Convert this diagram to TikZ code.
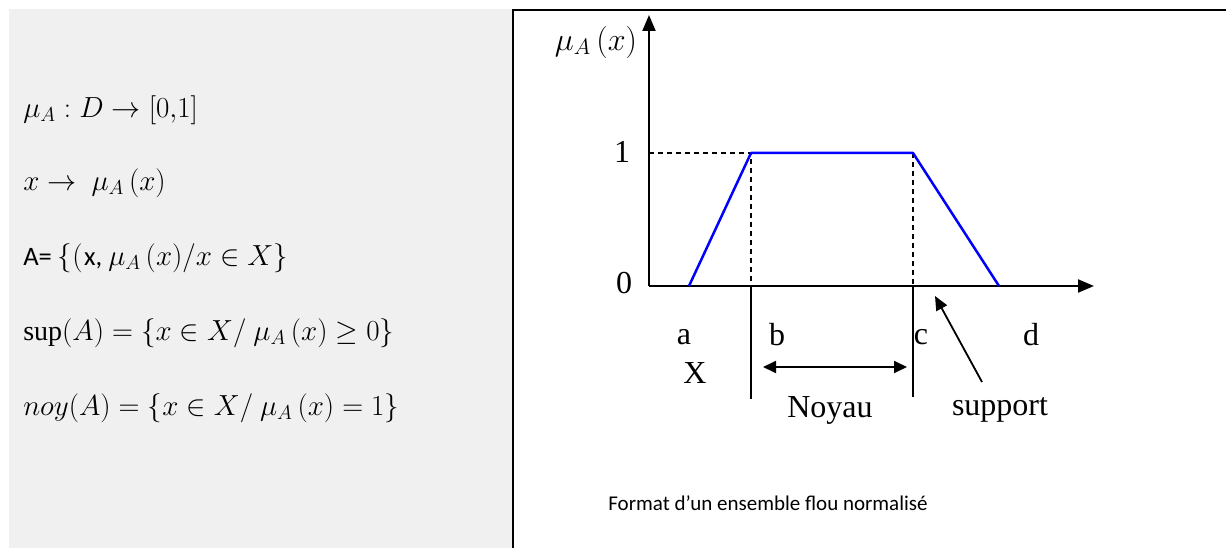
\documentclass[tikz,border=0pt]{standalone}
\usepackage{fontspec}
\setmainfont{Liberation Serif}
\newfontfamily\calib{Carlito}
\usetikzlibrary{arrows.meta}
\begin{document}
\begin{tikzpicture}[x=1pt,y=-1pt,
  axisline/.style={line width=2pt,-{Triangle[length=16pt,width=13pt]}},
  memb/.style={blue,line width=2.5pt,line join=round},
  guide/.style={dash pattern=on 5pt off 4pt,line width=2pt},
  tickline/.style={line width=1.6pt},
  lbl/.style={inner sep=0pt,font=\fontsize{32}{36}\selectfont},
  formula/.style={anchor=west,inner sep=0pt,scale=1.4,font=\fontsize{20}{24}\selectfont},
  dbl/.style={line width=1.8pt,{Triangle[length=13pt,width=12pt]}-{Triangle[length=13pt,width=12pt]}},
  ptr/.style={line width=1.8pt,-{Triangle[length=14pt,width=12pt]}}]
\useasboundingbox (0,0) rectangle (1226,548);
% left grey panel
\fill[gray!12] (9,9) rectangle (512,548);
% right frame (left and top sides)
\draw[line width=2pt] (513,548) -- (513,10) -- (1226,10);

% formulas
\node[formula] (f1) at (23,110) {$\mu_A : D \rightarrow [0{,}1]$};
\node[formula] (f2) at (23,183) {$x \rightarrow\ \mu_A\,(x)$};
\node[formula] (f3) at (23,258) {{\calib\fontsize{19}{23}\selectfont A= }$\{($\kern1pt{\calib\fontsize{19}{23}\selectfont x, }$\mu_A\,(x)/x \in X\}$};
\node[formula] (f4) at (23,333) {$\sup(A) = \{x \in X/\ \mu_A\,(x) \geq 0\}$};
\node[formula] (f5) at (23,408) {$noy(A) = \{x \in X/\ \mu_A\,(x) = 1\}$};

% key points
\coordinate (O) at (649,286);
\coordinate (ytip) at (649,15);
\coordinate (xtip) at (1094,286);
\coordinate (y1) at (649,153);
\coordinate (pa) at (689,286);
\coordinate (pb) at (751,153);
\coordinate (pc) at (913,153);
\coordinate (pd) at (999,286);
\coordinate (b0) at (751,286);
\coordinate (bl) at (751,399);
\coordinate (c0) at (913,286);
\coordinate (cl) at (913,397);
\coordinate (nl) at (763,367);
\coordinate (nr) at (907,367);
\coordinate (st) at (982,382);
\coordinate (se) at (935,296);

% dashed guides
\draw[guide] (y1) -- (pb) -- (b0);
\draw[guide] (pc) -- (c0);
% lower vertical marks
\draw[tickline] (b0) -- (bl);
\draw[tickline] (c0) -- (cl);
% axes
\draw[axisline] (O) -- (ytip);
\draw[axisline] (O) -- (xtip);
% membership function
\draw[memb] (pa) -- (pb) -- (pc) -- (pd);
% arrows
\draw[dbl] (nl) -- (nr);
\draw[ptr] (st) -- (se);

% labels
\node[inner sep=0pt,scale=1.55,font=\fontsize{20}{24}\selectfont] (mu) at (596,42) {$\mu_A\,(x)$};
\node[lbl] (one) at (622,152) {1};
\node[lbl] (zero) at (624,283) {0};
\node[lbl] (la) at (684,337) {a};
\node[lbl] (lb) at (777,335) {b};
\node[lbl] (lc) at (921,337) {c};
\node[lbl] (ld) at (1031,335) {d};
\node[lbl] (lX) at (695,373) {X};
\node[lbl] (noy) at (830,410) {Noyau};
\node[lbl] (sup) at (1000,410) {support};
\node[inner sep=0pt,font=\calib\fontsize{21}{25}\selectfont] (cap) at (768,503) {Format d’un ensemble flou normalisé};
\end{tikzpicture}
\end{document}
